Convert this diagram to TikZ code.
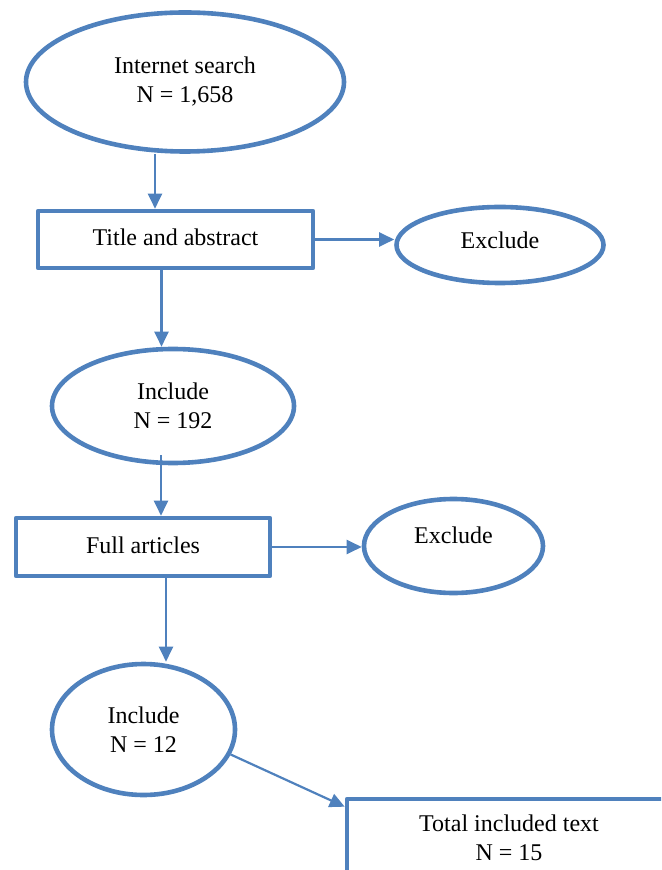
\documentclass[tikz,border=0pt]{standalone}
\usepackage{fontspec}
\setmainfont{Liberation Serif}
\usetikzlibrary{shapes.geometric,arrows.meta}
\definecolor{officeblue}{RGB}{79,129,189}

\begin{document}
\begin{tikzpicture}[x=0.5pt, y=-0.5pt, line join = round,
    oval/.style={ellipse, draw=officeblue, line width=2.3pt, inner sep=0pt, align=center,
        font=\fontsize{12}{14.5}\selectfont},
    stage/.style={rectangle, draw=officeblue, line width=2.3pt, inner sep=0pt, align=center,
        font=\fontsize{12}{14.5}\selectfont},
    flow/.style={draw=officeblue, line width=1.1pt, -{Triangle[length=7.5pt,width=7pt]}}]

                        \useasboundingbox (0,0) rectangle (661,870);
                        \clip (0,0) rectangle (661,870);

                        % search
                        \node [oval, minimum width=159pt, minimum height=69.5pt] (search) at (185,82) {Internet search\\N = 1,658};
                        % screening
                        \node [stage, minimum width=137.5pt, minimum height=28.5pt, text depth=2pt] (title) at (175.5,239.5) {Title and abstract};
                        \node [oval, minimum width=103.5pt, minimum height=38pt, text depth=5pt] (excl1) at (500,245) {Exclude};
                        \node [oval, minimum width=121pt, minimum height=57pt] (incl1) at (173,406) {Include\\N = 192};
                        % full text
                        \node [stage, minimum width=127pt, minimum height=29pt, text depth=2pt] (full) at (143,547) {Full articles};
                        \node [oval, minimum width=89.5pt, minimum height=47pt, text depth=11pt] (excl2) at (453.5,546) {Exclude};
                        \node [oval, minimum width=91.5pt, minimum height=65.5pt] (incl2) at (143.5,729.5) {Include\\N = 12};
                        % result
                        \node [stage, minimum width=162pt, minimum height=39pt] (total) at (509,838) {Total included text\\N = 15};

                        % arrows
                        \draw[flow] ([xshift=-15pt]search.south) -- ([xshift=-15pt]search.south |- title.north);
                        \draw[flow] (title.east) -- (title.east -| excl1.west);
                        \draw[flow] ([xshift=-7pt]title.south) -- ([xshift=-7pt]title.south |- incl1.north);
                        \draw[flow] ([xshift=-6pt,yshift=5pt]incl1.south) -- ([xshift=-6pt]incl1.south |- full.north);
                        \draw[flow] (full.east) -- (full.east -| excl2.west);
                        \draw[flow] ([xshift=11.5pt]full.south) -- ([xshift=11.5pt]full.south |- incl2.north);
                        \draw[flow] (incl2.-16) -- ([yshift=-5pt]total.north west);

                    \end{tikzpicture}
\end{document}
